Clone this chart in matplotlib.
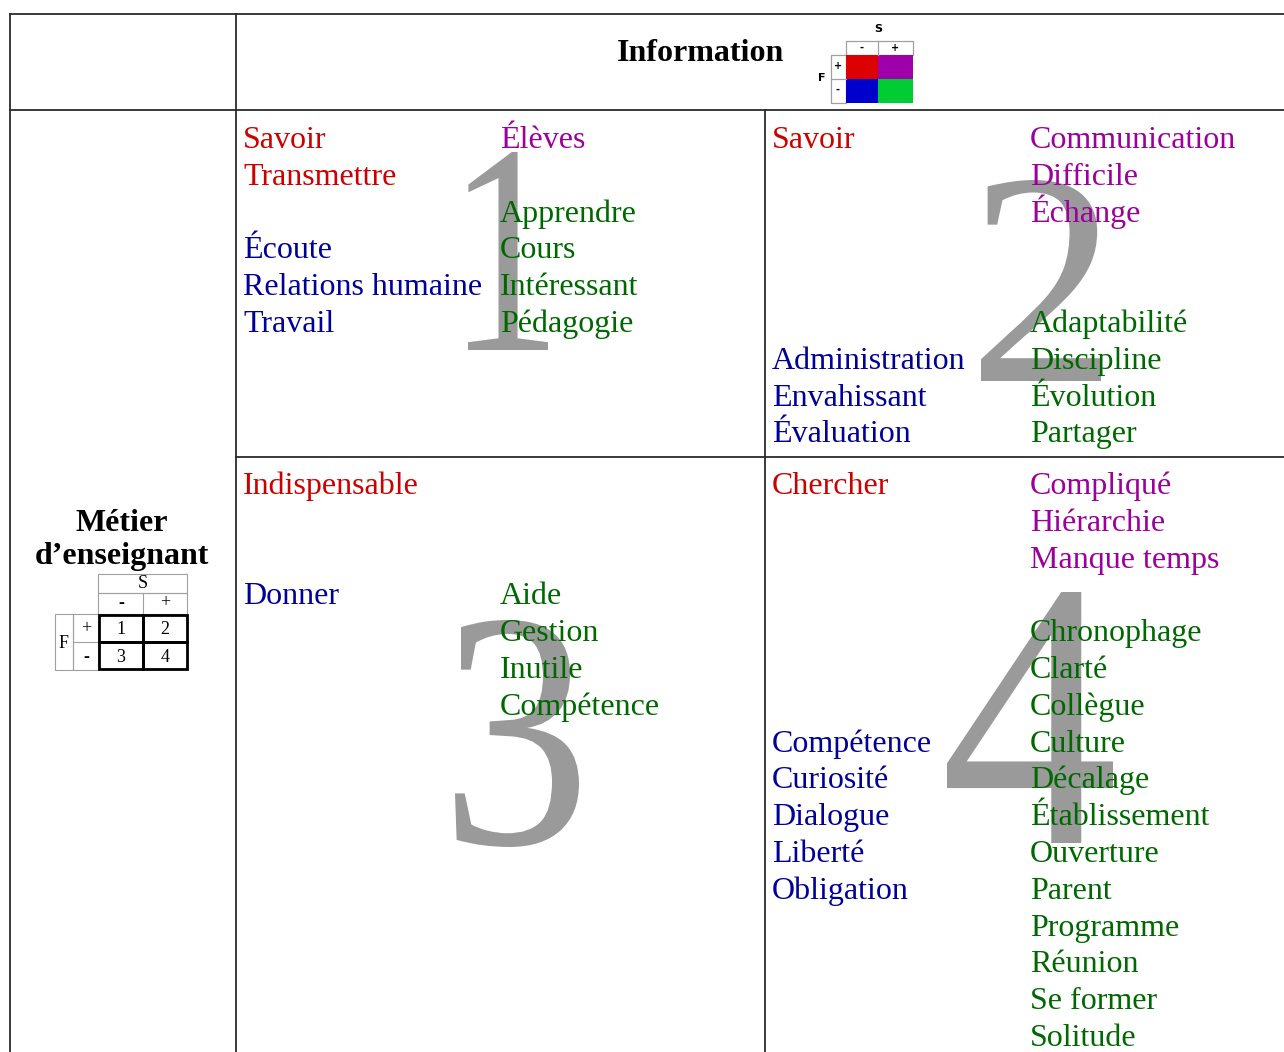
import matplotlib
matplotlib.use('Agg')
import numpy as np
import matplotlib.pyplot as plt
from matplotlib.patches import Rectangle, PathPatch
from matplotlib.textpath import TextPath
from matplotlib.font_manager import FontProperties
from matplotlib.transforms import Affine2D

# Mots de chaque quadrant, par couleur
q1_rouge = ["Savoir", "Transmettre"]
q1_violet = ["Élèves"]
q1_bleu = ["Écoute", "Relations humaine", "Travail"]
q1_vert = ["Apprendre", "Cours", "Intéressant", "Pédagogie"]

q2_rouge = ["Savoir"]
q2_violet = ["Communication", "Difficile", "Échange"]
q2_bleu = ["Administration", "Envahissant", "Évaluation"]
q2_vert = ["Adaptabilité", "Discipline", "Évolution", "Partager"]

q3_rouge = ["Indispensable"]
q3_bleu = ["Donner"]
q3_vert = ["Aide", "Gestion", "Inutile", "Compétence"]

q4_rouge = ["Chercher"]
q4_violet = ["Compliqué", "Hiérarchie", "Manque temps"]
q4_bleu = ["Compétence", "Curiosité", "Dialogue", "Liberté", "Obligation"]
q4_vert = ["Chronophage", "Clarté", "Collègue", "Culture", "Décalage",
           "Établissement", "Ouverture", "Parent", "Programme", "Réunion",
           "Se former", "Solitude"]

titre_colonne = "Information"
titre_ligne = ["Métier", "d’enseignant"]
numeros = ["1", "2", "3", "4"]

# couleurs
ROUGE = '#cc0000'
VIOLET = '#9c009c'
BLEU = '#000099'
VERT = '#006800'
GRIS = '#9a9a9a'

serif = 'Liberation Serif'
W, H = 1284, 1052
fig = plt.figure(figsize=(W / 100, H / 100), dpi=100)
ax = fig.add_axes([0, 0, 1, 1])
ax.set_xlim(0, W)
ax.set_ylim(H, 0)
ax.axis('off')

# grille du tableau
lc = '#2b2b2b'
lw = 1.3
ax.plot([9.5, W], [13.5, 13.5], color=lc, lw=lw)
ax.plot([9.5, W], [109.5, 109.5], color=lc, lw=lw)
ax.plot([235.5, W], [456.5, 456.5], color=lc, lw=lw)
ax.plot([9.5, 9.5], [13.5, H], color=lc, lw=lw)
ax.plot([235.5, 235.5], [13.5, H], color=lc, lw=lw)
ax.plot([764.5, 764.5], [109.5, H], color=lc, lw=lw)

# gros chiffres en fond (ajustés à une boîte)
boites = [(468, 152, 548, 350), (981, 180, 1101, 381),
          (455, 620, 579, 847), (947, 592, 1113, 843)]
fp = FontProperties(family=serif)
for num, (x0, y0, x1, y1) in zip(numeros, boites):
    tp = TextPath((0, 0), num, size=100, prop=fp)
    pts = np.concatenate(tp.to_polygons())
    xmin, ymin = pts.min(axis=0)
    xmax, ymax = pts.max(axis=0)
    sx = (x1 - x0) / (xmax - xmin)
    sy = (y1 - y0) / (ymax - ymin)
    tr = Affine2D().translate(-xmin, -ymin).scale(sx, -sy).translate(x0, y1)
    ax.add_patch(PathPatch(tr.transform_path(tp), facecolor=GRIS,
                           edgecolor='none', zorder=1))

# texte des quadrants
pas = 36.8
fs = 23
blocs = [
    (q1_rouge, 243, 148, 0, ROUGE), (q1_violet, 500, 148, 0, VIOLET),
    (q1_bleu, 243, 148, 3, BLEU), (q1_vert, 500, 148, 2, VERT),
    (q2_rouge, 772, 148, 0, ROUGE), (q2_violet, 1030, 148, 0, VIOLET),
    (q2_bleu, 772, 148, 6, BLEU), (q2_vert, 1030, 148, 5, VERT),
    (q3_rouge, 243, 494, 0, ROUGE), (q3_bleu, 243, 494, 3, BLEU),
    (q3_vert, 500, 494, 3, VERT),
    (q4_rouge, 772, 494, 0, ROUGE), (q4_violet, 1030, 494, 0, VIOLET),
    (q4_bleu, 772, 494, 7, BLEU), (q4_vert, 1030, 494, 4, VERT),
]
for mots, x, y0, k0, c in blocs:
    for i, m in enumerate(mots):
        ax.text(x, y0 + (k0 + i) * pas, m, color=c, fontsize=fs, family=serif,
                ha='left', va='baseline', zorder=3)

# titres
ax.text(701, 61, titre_colonne, fontsize=fs, family=serif, weight='bold',
        ha='center', va='baseline', zorder=3)
ax.text(122, 531, titre_ligne[0], fontsize=fs, family=serif, weight='bold',
        ha='center', va='baseline', zorder=3)
ax.text(122, 564, titre_ligne[1], fontsize=fs, family=serif, weight='bold',
        ha='center', va='baseline', zorder=3)

# légende couleur (en-tête)
gl = '#a0a0a0'
couleurs_leg = [['#dd0000', '#a000aa'], ['#0000cc', '#00cc33']]
cx = [846, 878, 913]
cy = [55, 79, 103]
for i in range(2):
    for j in range(2):
        ax.add_patch(Rectangle((cx[j], cy[i]), cx[j + 1] - cx[j], cy[i + 1] - cy[i],
                               facecolor=couleurs_leg[i][j], edgecolor='none', zorder=2))
ax.add_patch(Rectangle((846, 41), 67, 14, facecolor='none', edgecolor=gl, lw=0.9))
ax.plot([878, 878], [41, 55], color=gl, lw=0.9)
ax.add_patch(Rectangle((831, 55), 15, 48, facecolor='none', edgecolor=gl, lw=0.9))
ax.plot([831, 846], [79, 79], color=gl, lw=0.9)
ax.text(878, 29, "S", fontsize=8, weight='bold', ha='center', va='center')
ax.text(822, 78, "F", fontsize=8, weight='bold', ha='center', va='center')
ax.text(862, 48, "-", fontsize=7, weight='bold', ha='center', va='center')
ax.text(895, 48, "+", fontsize=7, weight='bold', ha='center', va='center')
ax.text(838, 66, "+", fontsize=7, weight='bold', ha='center', va='center')
ax.text(838, 90, "-", fontsize=7, weight='bold', ha='center', va='center')

# légende numérotée (colonne de gauche)
ax.add_patch(Rectangle((98, 574), 89, 19, facecolor='none', edgecolor=gl, lw=0.8))
ax.add_patch(Rectangle((98, 593), 89, 21, facecolor='none', edgecolor=gl, lw=0.8))
ax.plot([143, 143], [593, 614], color=gl, lw=0.8)
ax.add_patch(Rectangle((55, 614), 18, 56, facecolor='none', edgecolor=gl, lw=0.8))
ax.add_patch(Rectangle((73, 614), 25, 56, facecolor='none', edgecolor=gl, lw=0.8))
ax.plot([73, 98], [642, 642], color=gl, lw=0.8)
for xa, ya, w, h in [(99, 615, 44, 27), (143, 615, 44, 27), (99, 642, 44, 27), (143, 642, 44, 27)]:
    ax.add_patch(Rectangle((xa, ya), w, h, facecolor='none', edgecolor='black', lw=2, zorder=3))
ax.text(142.5, 584, "S", fontsize=13, family=serif, ha='center', va='center')
ax.text(121, 604, "-", fontsize=13, family=serif, weight='bold', ha='center', va='center')
ax.text(165, 603, "+", fontsize=13, family=serif, ha='center', va='center')
ax.text(86, 629, "+", fontsize=13, family=serif, ha='center', va='center')
ax.text(86, 657, "-", fontsize=13, family=serif, weight='bold', ha='center', va='center')
ax.text(64, 643, "F", fontsize=13, family=serif, ha='center', va='center')
for n, (xa, ya) in zip(numeros, [(121, 629), (165, 629), (121, 657), (165, 657)]):
    ax.text(xa, ya, n, fontsize=13, family=serif, ha='center', va='center')

fig.savefig('out.png', dpi=100)
